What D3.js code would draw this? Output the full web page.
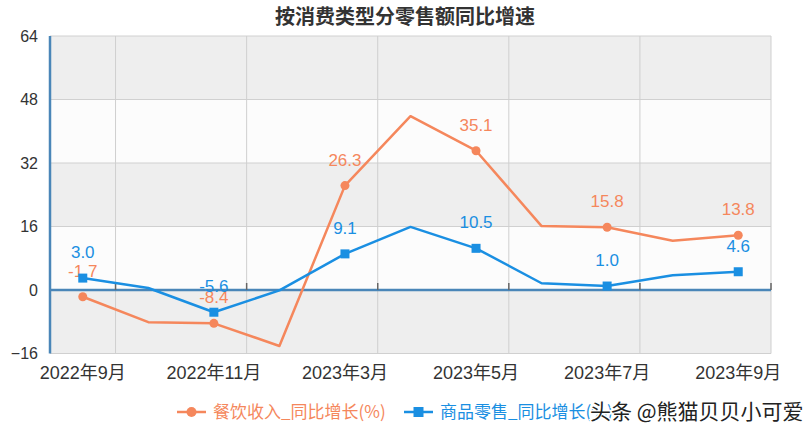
<!DOCTYPE html>
<html>
<head>
<meta charset="utf-8">
<script src="https://cdn.jsdelivr.net/npm/d3@7"></script>
<style>
  body { margin: 0; background: #fff; }
  text { font-family: "Liberation Sans", "Noto Sans CJK SC", sans-serif; }
</style>
</head>
<body>
<svg id="chart" width="811" height="436"></svg>
<script>
// categories (2023年1-2月 not published separately)
var months = ["2022年9月","2022年10月","2022年11月","2022年12月","2023年3月","2023年4月",
              "2023年5月","2023年6月","2023年7月","2023年8月","2023年9月"];
// 餐饮收入 同比增长 (%)
var catering = [-1.7, -8.1, -8.4, -14.1, 26.3, 43.8, 35.1, 16.1, 15.8, 12.4, 13.8];
// 商品零售 同比增长 (%)
var goods = [3.0, 0.5, -5.6, -0.1, 9.1, 15.9, 10.5, 1.7, 1.0, 3.7, 4.6];
var yTicks = [-16, 0, 16, 32, 48, 64];

var orange = "#f5875c", blue = "#1a8fe2", axisBlue = "#4a86b8";

var svg = d3.select("#chart");
var pLeft = 50, pRight = 771, pTop = 36, pBottom = 353.5;

var x = d3.scaleBand().domain(months).range([pLeft, pRight]).padding(0);
var y = d3.scaleLinear().domain([-16, 64]).range([pBottom, pTop]);
function cx(m) { return x(m) + x.bandwidth() / 2; }

// title
svg.append("text")
  .attr("x", 405).attr("y", 17).attr("dy", "0.35em")
  .attr("text-anchor", "middle")
  .attr("font-size", 20).attr("font-weight", "bold")
  .attr("fill", "#333")
  .style("font-family", "'Noto Sans CJK SC', sans-serif")
  .text("按消费类型分零售额同比增速");

// alternating bands
var bands = d3.pairs(yTicks);
svg.selectAll(".band")
  .data(bands)
  .enter().append("rect")
    .attr("x", pLeft)
    .attr("y", function(d){ return y(d[1]); })
    .attr("width", pRight - pLeft)
    .attr("height", function(d){ return y(d[0]) - y(d[1]); })
    .attr("fill", function(d,i){ return i % 2 == 0 ? "#eeeeee" : "#fcfcfc"; });

// horizontal grid
svg.selectAll(".hgrid")
  .data(yTicks)
  .enter().append("line")
    .attr("x1", pLeft).attr("x2", pRight)
    .attr("y1", function(d){ return y(d); })
    .attr("y2", function(d){ return y(d); })
    .attr("stroke", "#d0d0d0").attr("stroke-width", 1);

// vertical grid at boundaries of labelled intervals
var bounds = months.filter(function(d,i){ return i % 2 == 1; }).map(function(d){ return x(d); });
bounds.push(pRight);
svg.selectAll(".vgrid")
  .data(bounds)
  .enter().append("line")
    .attr("x1", function(d){ return d; })
    .attr("x2", function(d){ return d; })
    .attr("y1", pTop).attr("y2", pBottom)
    .attr("stroke", "#cfcfcf").attr("stroke-width", 1);

// y axis labels
var yAxis = d3.axisLeft(y).tickValues(yTicks).tickSize(0).tickPadding(12);
var gy = svg.append("g")
  .attr("transform", "translate(" + pLeft + ",0)")
  .call(yAxis);
gy.select(".domain").remove();
gy.selectAll("text").attr("font-size", 16).attr("fill", "#333")
  .style("font-family", "'Liberation Sans', sans-serif");

// left axis line
svg.append("line")
  .attr("x1", pLeft).attr("x2", pLeft)
  .attr("y1", pTop).attr("y2", pBottom)
  .attr("stroke", axisBlue).attr("stroke-width", 2.5);

// x axis on zero
svg.append("line")
  .attr("x1", pLeft).attr("x2", pRight)
  .attr("y1", y(0)).attr("y2", y(0))
  .attr("stroke", axisBlue).attr("stroke-width", 2.5);
svg.selectAll(".xtick")
  .data(bounds)
  .enter().append("line")
    .attr("x1", function(d){ return d; })
    .attr("x2", function(d){ return d; })
    .attr("y1", y(0) - 7).attr("y2", y(0))
    .attr("stroke", "#666").attr("stroke-width", 1.5);

// x labels (every other category)
svg.selectAll(".xlab")
  .data(months.filter(function(d,i){ return i % 2 == 0; }))
  .enter().append("text")
    .attr("x", function(d){ return cx(d); })
    .attr("y", 373).attr("dy", "0.35em")
    .attr("text-anchor", "middle")
    .attr("font-size", 18).attr("fill", "#333")
    .text(function(d){ return d; });

function drawSeries(values, color, shape, key) {
  var pts = values.map(function(v,i){ return {v: v, m: months[i], i: i}; });
  var line = d3.line()
    .x(function(d){ return cx(d.m); })
    .y(function(d){ return y(d.v); });
  svg.append("path")
    .datum(pts)
    .attr("d", line)
    .attr("fill", "none")
    .attr("stroke", color)
    .attr("stroke-width", 2.5)
    .attr("stroke-linejoin", "round");

  var shown = pts.filter(function(d){ return d.i % 2 == 0; });
  if (shape == "circle") {
    svg.selectAll(".mk-" + key)
      .data(shown)
      .enter().append("circle")
        .attr("cx", function(d){ return cx(d.m); })
        .attr("cy", function(d){ return y(d.v); })
        .attr("r", 4.5)
        .attr("fill", color);
  } else {
    svg.selectAll(".mk-" + key)
      .data(shown)
      .enter().append("rect")
        .attr("x", function(d){ return cx(d.m) - 4.5; })
        .attr("y", function(d){ return y(d.v) - 4.5; })
        .attr("width", 9).attr("height", 9)
        .attr("fill", color);
  }
  svg.selectAll(".lb-" + key)
    .data(shown)
    .enter().append("text")
      .attr("x", function(d){ return cx(d.m); })
      .attr("y", function(d){ return y(d.v) - 26; })
      .attr("dy", "0.35em")
      .attr("text-anchor", "middle")
      .attr("font-size", 17)
      .attr("fill", color)
      .text(function(d){ return d.v.toFixed(1); });
}

drawSeries(catering, orange, "circle", "cat");
drawSeries(goods, blue, "square", "goods");

// legend
var legend = [
  {name: "餐饮收入_同比增长(%)", color: orange, shape: "circle", x: 177},
  {name: "商品零售_同比增长(%)", color: blue, shape: "square", x: 404}
];
var lg = svg.selectAll(".legend")
  .data(legend)
  .enter().append("g")
    .attr("transform", function(d){ return "translate(" + d.x + ",412)"; });
lg.append("line")
  .attr("x1", 0).attr("x2", 29)
  .attr("stroke", function(d){ return d.color; })
  .attr("stroke-width", 2.5);
lg.filter(function(d){ return d.shape == "circle"; })
  .append("circle").attr("cx", 14.5).attr("r", 5).attr("fill", orange);
lg.filter(function(d){ return d.shape == "square"; })
  .append("rect").attr("x", 9.5).attr("y", -5).attr("width", 10).attr("height", 10).attr("fill", blue);
lg.append("text")
  .attr("x", 36).attr("dy", "0.35em")
  .attr("font-size", 17)
  .attr("fill", function(d){ return d.color; })
  .style("font-family", "'Noto Sans CJK SC', sans-serif")
  .text(function(d){ return d.name; });

// watermark
svg.append("text")
  .attr("x", 590).attr("y", 412).attr("dy", "0.35em")
  .attr("font-size", 21)
  .attr("fill", "#222")
  .attr("stroke", "#fff").attr("stroke-width", 3)
  .attr("paint-order", "stroke")
  .style("font-family", "'Noto Sans CJK SC', sans-serif")
  .text("头条 @熊猫贝贝小可爱");
</script>
</body>
</html>
